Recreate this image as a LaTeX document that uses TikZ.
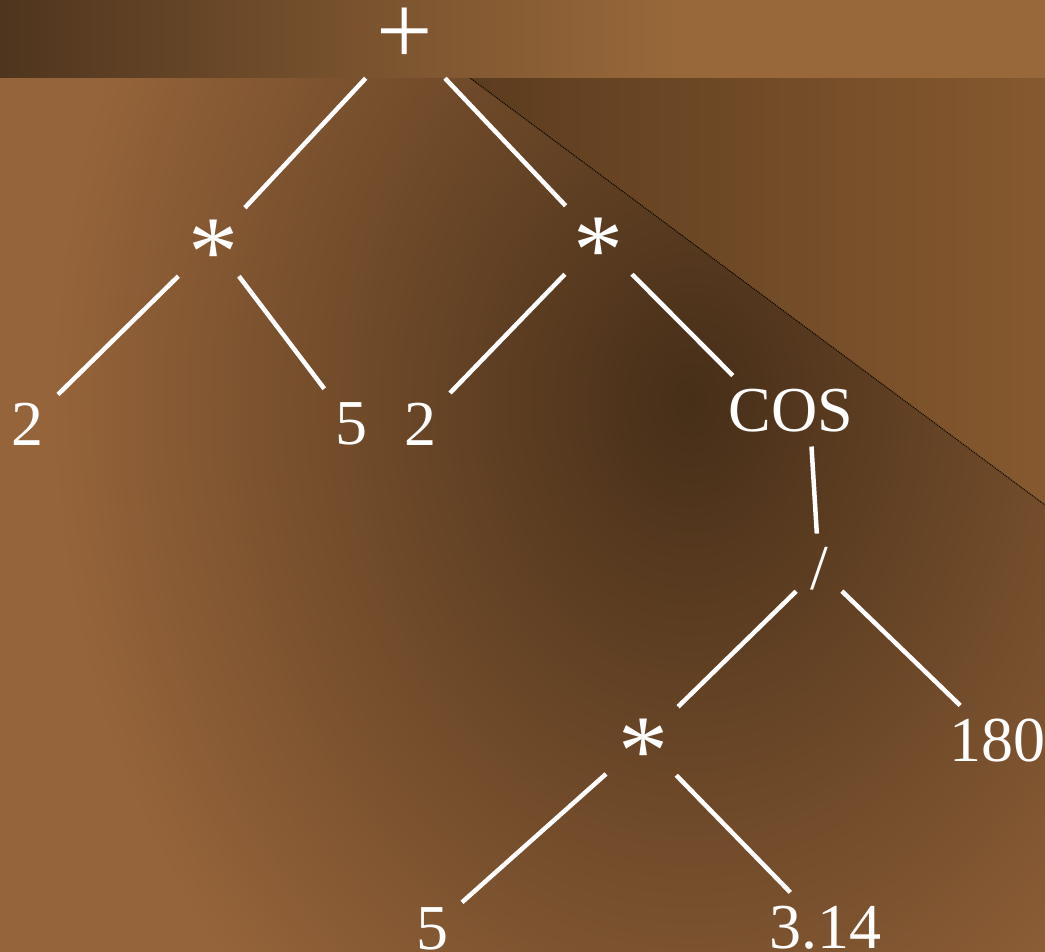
\documentclass[tikz,border=0pt]{standalone}
\usepackage{fontspec}
\setmainfont{Liberation Serif}
\usepackage{tikz}
\definecolor{bgLight}{HTML}{96643A}
\definecolor{bgDark}{HTML}{462E18}
\definecolor{bandDark}{HTML}{4F351E}
\definecolor{bandLight}{HTML}{98683A}
\definecolor{triDark}{HTML}{5C3C1F}
\definecolor{triLight}{HTML}{86592F}
\newcommand\mulsym{\raisebox{-0.21em}{*}}

\begin{document}
\begin{tikzpicture}[x=1pt,y=-1pt,
    leaf/.style={text=white,inner sep=0pt,outer sep=14pt,font=\fontsize{64}{64}\selectfont},
    oper/.style={text=white,inner sep=0pt,outer sep=14pt,font=\fontsize{100}{100}\selectfont},
    mult/.style={oper,text depth=0pt,outer sep=12pt},
    edge/.style={white,line width=4.5pt}]
  \useasboundingbox (0,0) rectangle (1045,952);
  \begin{scope}
    \clip (0,0) rectangle (1045,952);
    \fill[bgLight] (0,0) rectangle (1045,952);
    \shade[inner color=bgDark,outer color=bgLight] (690,400) ellipse (640pt and 820pt);
    \shade[left color=triDark,right color=triLight] (470,78) -- (1045,78) -- (1045,505) -- cycle;
    \draw[black,line width=1pt,densely dotted] (470,78) -- (1045,505);
    \shade[left color=bandDark,right color=bandLight,middle color=bandDark!45!bandLight]
      (0,0) rectangle (680,78);
    \fill[bandLight] (679,0) rectangle (1045,78);
  \end{scope}

  \node[oper] (plus) at (405,36) {+};
  \node[mult] (timesL) at (213,242) {\mulsym};
  \node[mult] (timesR) at (598,240) {\mulsym};
  \node[leaf] (twoL) at (28,424) {2};
  \node[leaf] (fiveL) at (351,424) {5};
  \node[leaf] (twoR) at (420,424) {2};
  \node[leaf] (cosn) at (791,411) {COS};
  \node[leaf] (slash) at (819,569) {/};
  \node[mult] (timesB) at (643,741) {\mulsym};
  \node[leaf] (deg) at (997,741) {180};
  \node[leaf] (fiveB) at (432,929) {5};
  \node[leaf] (pival) at (825,928) {3.14};

  \draw[edge] (plus) -- (timesL);
  \draw[edge] (plus) -- (timesR);
  \draw[edge] (timesL) -- (twoL);
  \draw[edge] (timesL) -- (fiveL);
  \draw[edge] (timesR) -- (twoR);
  \draw[edge] (timesR) -- ([xshift=18pt]cosn.north west);
  \draw[edge] (cosn.-60) -- (slash);
  \draw[edge] (slash) -- (timesB);
  \draw[edge] (slash) -- (deg);
  \draw[edge] (timesB) -- (fiveB);
  \draw[edge] (timesB) -- (pival);
\end{tikzpicture}
\end{document}
